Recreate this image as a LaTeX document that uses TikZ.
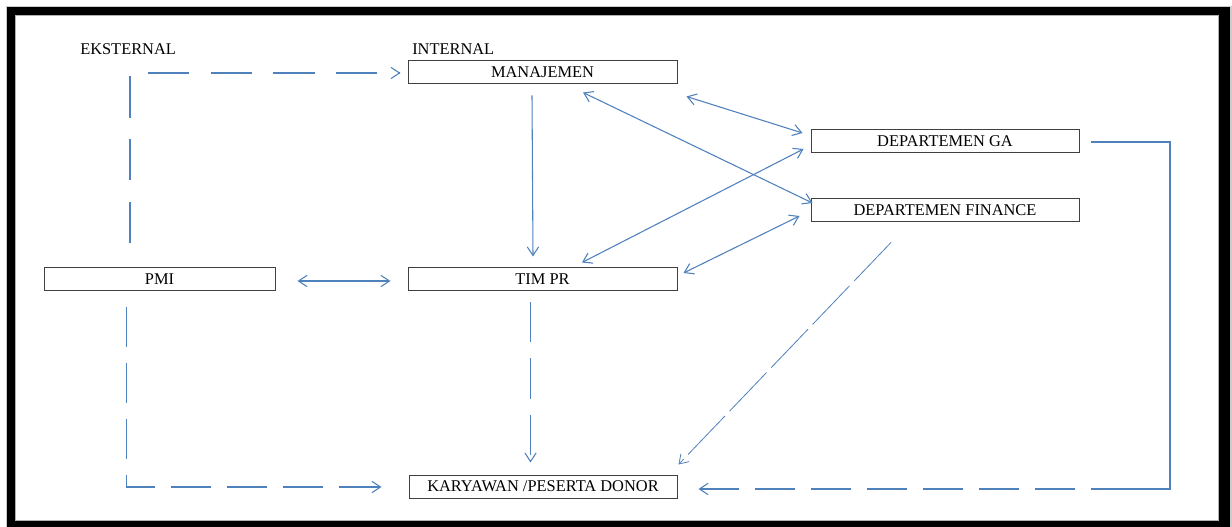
\documentclass[tikz,border=0pt]{standalone}
\usepackage{fontspec}
\setmainfont{Liberation Serif}
\usetikzlibrary{arrows.meta,calc}

\definecolor{lineblue}{RGB}{79,129,189}
\tikzset{
    box/.style={draw=black!75, line width=0.75pt, inner sep=0pt, minimum height=17.25pt,
        text height=8.1pt, text depth=0pt, font=\fontsize{12.3}{14}\selectfont},
    lbl/.style={inner sep=0pt, font=\fontsize{12.3}{14}\selectfont},
    link/.style={draw=lineblue, line width=0.8pt, >={Straight Barb[length=6.5pt,width=8.5pt]}},
    longdash/.style={dash pattern=on 30pt off 12pt},
}

\begin{document}
\begin{tikzpicture}[x=0.75pt,y=-0.75pt]

        \useasboundingbox (0,0) rectangle (1232,527);
        \fill[black!20] (6,6) rectangle (1232,527);
        \fill[black] (7,7) rectangle (1230,527);
        \filldraw[fill=white, draw=black!30] (15,15) rectangle (1218,520);

        \node[lbl, anchor=base west] (eksternal) at (80,55) {EKSTERNAL};
        \node[lbl, anchor=base west] (internal) at (412,55) {INTERNAL};
        \node[box, minimum width=201.75pt] (manajemen) at (542.5,72.5) {MANAJEMEN};
        \node[box, minimum width=201.75pt] (timpr) at (542.5,279.5) {TIM PR};
        \node[box, minimum width=201pt] (karyawan) at (543,486.5) {KARYAWAN /PESERTA DONOR};
        \node[box, minimum width=173.25pt] (pmi) at (159.5,279) {PMI};
        \node[box, minimum width=201pt] (ga) at (945,141) {DEPARTEMEN GA};
        \node[box, minimum width=201pt] (finance) at (945,210) {DEPARTEMEN FINANCE};

        \draw[link,<->] ($(pmi.east)+(22,2)$) -- ($(timpr.west)+(-17,1.5)$);
        \draw[link,->] ($(manajemen.south)+(-10.5,11)$) -- ($(timpr.north)+(-9.5,-11)$);
        \draw[link,<->] ($(manajemen.south)+(40.5,8)$) -- ($(finance.west)+(2,-7)$);
        \draw[link,<->] ($(manajemen.south east)+(9,12)$) -- ($(ga.west)+(-8,-8)$);
        \draw[link,<->] ($(timpr.north)+(39.5,-5)$) -- ($(ga.west)+(-7,8)$);
        \draw[link,<->] ($(timpr.east)+(6,-6.5)$) -- ($(finance.west)+(-11,6)$);

        \draw[link,dash pattern=on 31pt off 16pt,->] ($(pmi.north)+(-29.5,-24)$) |- ($(manajemen.west)+(-7,0.5)$);
        \draw[link,longdash,->] ($(pmi.south)+(-33,16)$) |- ($(karyawan.west)+(-27,0.5)$);
        \draw[link,longdash,->] ($(timpr.south)+(-12,11)$) -- ($(karyawan.north)+(-12.5,-12)$);
        \draw[link,line width=0.6pt,dash pattern=on 40pt off 5pt,->] ($(finance.south)+(-54,20.5)$) -- ($(karyawan.north east)+(1,-10)$);

        \coordinate (gacorner) at (1170,489);
        \coordinate (gabreak) at (1091,489);
        \draw[link] ($(ga.east)+(11,1)$) -| (gacorner) -- (gabreak);
        \draw[link,longdash,dash phase=30pt,->] (gabreak) -- ($(karyawan.east)+(21,2.5)$);
    \end{tikzpicture}
\end{document}
